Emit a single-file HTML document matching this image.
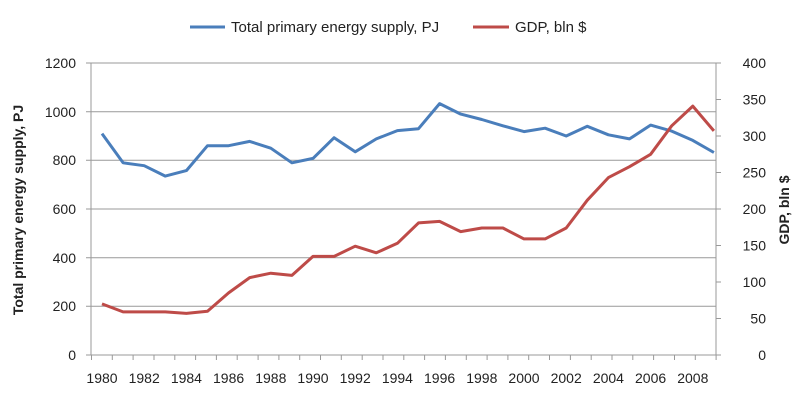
<!DOCTYPE html>
<html><head><meta charset="utf-8"><style>
body{margin:0;background:#fff;}
svg{display:block;font-family:"Liberation Sans",sans-serif;}
</style></head><body>
<svg width="800" height="412" viewBox="0 0 800 412">
<g stroke="#999" stroke-width="1">
<line x1="86" x2="716" y1="63" y2="63"/>
<line x1="86" x2="716" y1="111.7" y2="111.7"/>
<line x1="86" x2="716" y1="160.3" y2="160.3"/>
<line x1="86" x2="716" y1="209" y2="209"/>
<line x1="86" x2="716" y1="257.7" y2="257.7"/>
<line x1="86" x2="716" y1="306.3" y2="306.3"/>
<line x1="86" x2="716" y1="355" y2="355"/>
<line x1="91" x2="91" y1="63" y2="355"/>
<line x1="716" x2="716" y1="63" y2="355"/>
<path id="ticks" d=""/>
</g>
<g font-size="14" fill="#222" text-anchor="end">
<text x="76" y="68">1200</text><text x="76" y="117">1000</text><text x="76" y="165">800</text>
<text x="76" y="214">600</text><text x="76" y="263">400</text><text x="76" y="311">200</text><text x="76" y="360">0</text>
</g>
<g font-size="14" fill="#222" text-anchor="end">
<text x="766" y="68">400</text><text x="766" y="104.5">350</text><text x="766" y="141">300</text>
<text x="766" y="177.5">250</text><text x="766" y="214">200</text><text x="766" y="250.5">150</text>
<text x="766" y="287">100</text><text x="766" y="323.5">50</text><text x="766" y="360">0</text>
</g>
<g font-size="14" fill="#222" text-anchor="middle">
<text x="102" y="383">1980</text><text x="144.2" y="383">1982</text><text x="186.4" y="383">1984</text>
<text x="228.6" y="383">1986</text><text x="270.8" y="383">1988</text><text x="313" y="383">1990</text>
<text x="355.2" y="383">1992</text><text x="397.4" y="383">1994</text><text x="439.6" y="383">1996</text>
<text x="481.8" y="383">1998</text><text x="524" y="383">2000</text><text x="566.2" y="383">2002</text>
<text x="608.4" y="383">2004</text><text x="650.6" y="383">2006</text><text x="692.8" y="383">2008</text>
</g>
<text transform="translate(23,210) rotate(-90)" font-size="14" font-weight="bold" fill="#222" text-anchor="middle">Total primary energy supply, PJ</text>
<text transform="translate(789,210) rotate(-90)" font-size="14" font-weight="bold" fill="#222" text-anchor="middle">GDP, bln $</text>
<line x1="190" x2="225" y1="27" y2="27" stroke="#4a7ebb" stroke-width="3"/>
<text x="231" y="32" font-size="15" fill="#222">Total primary energy supply, PJ</text>
<line x1="473" x2="509" y1="27" y2="27" stroke="#be4b48" stroke-width="3"/>
<text x="515" y="32" font-size="15" fill="#222">GDP, bln $</text>
<polyline id="b" fill="none" stroke="#4a7ebb" stroke-width="3" stroke-linejoin="round"/>
<polyline id="r" fill="none" stroke="#be4b48" stroke-width="3" stroke-linejoin="round"/>
</svg>
<script>
var B=[910,790,778,735,758,860,860,878,850,790,808,893,835,888,922,930,1033,990,968,942,918,932,900,940,905,888,945,920,882,832];
var R=[70,59,59,59,57,60,85,106,112,109,135,135,149,140,153,181,183,169,174,174,159,159,174,212,243,258,275,314,341,307];
function pts(a,m){return a.map(function(v,i){return (102+i*21.1).toFixed(1)+","+(355-v/m*292).toFixed(1)}).join(" ")}
document.getElementById("b").setAttribute("points",pts(B,1200));
document.getElementById("r").setAttribute("points",pts(R,400));
var d="";for(var i=0;i<=30;i++){var x=(91.5+i*20.82).toFixed(1);d+="M"+x+",355V360";}
for(var j=0;j<=8;j++){var y=(63+j*36.5).toFixed(1);d+="M716,"+y+"H721";}
document.getElementById("ticks").setAttribute("d",d);
</script>
</body></html>
